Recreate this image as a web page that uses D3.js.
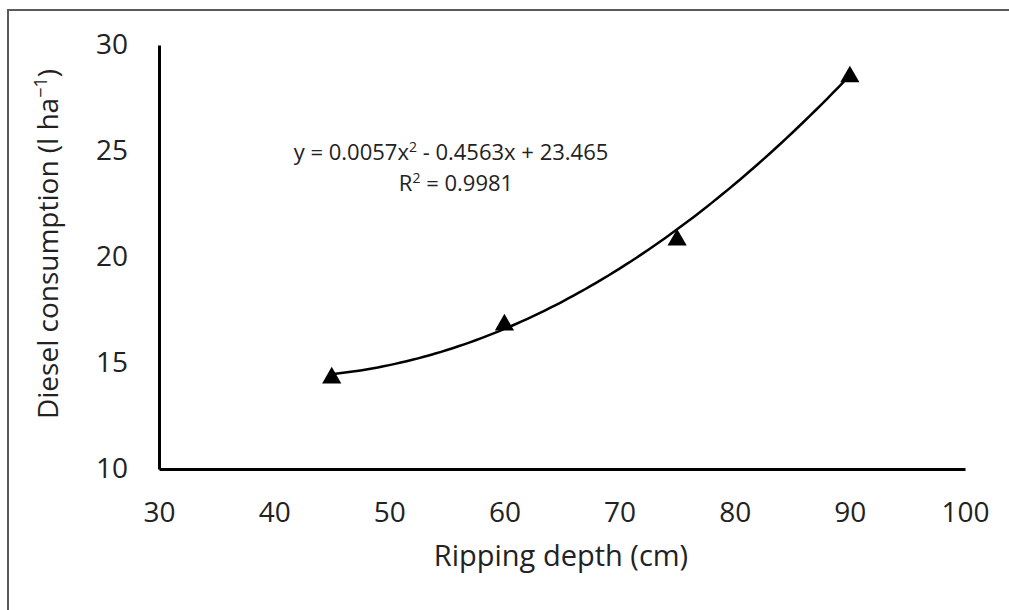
<!DOCTYPE html>
<html>
<head>
<meta charset="utf-8">
<script src="https://cdn.jsdelivr.net/npm/d3@7"></script>
<style>
  body { margin: 0; background: #fff; }
  text { font-family: 'Open Sans', sans-serif; fill: #222; }
</style>
</head>
<body>
<svg width="1009" height="610"></svg>
<script>
//chart size
const SVG_WIDTH = 1009;
const SVG_HEIGHT = 610;

//ripping depth (cm) and diesel consumption (l/ha)
var depths = [45, 60, 75, 90];
var diesel = [14.3, 16.8, 20.8, 28.5];
//polynomial trendline coefficients: a*x^2 + b*x + c
var trendCoef = [0.0057, -0.4563, 23.465];
var trendRange = [45, 90];
//tick labels
var xTicks = [30, 40, 50, 60, 70, 80, 90, 100];
var yTicks = [10, 15, 20, 25, 30];

var svg = d3.select('svg');

//outer frame (only top and left edges show)
svg.append('rect')
   .attr('x', 8).attr('y', 10)
   .attr('width', SVG_WIDTH + 20).attr('height', SVG_HEIGHT + 20)
   .attr('fill', 'none')
   .attr('stroke', '#5a5a5a')
   .attr('stroke-width', 2);

var x = d3.scaleLinear().domain([30, 100]).range([159, 965]);
var y = d3.scaleLinear().domain([10, 30]).range([469, 45]);

//x axis
var xAxis = svg.append('g')
   .attr('transform', 'translate(0,469)')
   .call(d3.axisBottom(x).tickValues(xTicks).tickSize(0).tickPadding(33));
xAxis.select('.domain').attr('stroke', '#000').attr('stroke-width', 3);
xAxis.selectAll('text').style('font-size', '28px').attr('fill', '#222');

//y axis
var yAxis = svg.append('g')
   .attr('transform', 'translate(159,0)')
   .call(d3.axisLeft(y).tickValues(yTicks).tickSize(0).tickPadding(31));
yAxis.select('.domain').attr('stroke', '#000').attr('stroke-width', 3);
yAxis.selectAll('text').style('font-size', '28px').attr('fill', '#222');

//axis titles
svg.append('text')
   .attr('x', 561).attr('y', 566)
   .attr('text-anchor', 'middle')
   .style('font-size', '29px')
   .text('Ripping depth (cm)');

var yt = svg.append('text')
   .attr('transform', 'translate(58,244) rotate(-90)')
   .attr('text-anchor', 'middle')
   .style('font-size', '28px');
yt.append('tspan').text('Diesel consumption (l ha');
yt.append('tspan').attr('dy', -11).style('font-size', '18px').text('\u22121');
yt.append('tspan').attr('dy', 11).text(')');

//trendline from the fitted polynomial
var trendX = d3.range(trendRange[0], trendRange[1] + 0.01, 0.5);
var line = d3.line()
   .x(function(d) { return x(d); })
   .y(function(d) { return y(trendCoef[0]*d*d + trendCoef[1]*d + trendCoef[2]); })
   .curve(d3.curveMonotoneX);
svg.append('path')
   .attr('d', line(trendX))
   .attr('fill', 'none')
   .attr('stroke', '#000')
   .attr('stroke-width', 2.5);

//triangle markers
svg.selectAll('.pt')
   .data(depths)
   .enter()
   .append('path')
   .attr('class', 'pt')
   .attr('d', d3.symbol().type(d3.symbolTriangle).size(160))
   .attr('transform', function(d, i) { return 'translate(' + x(d) + ',' + y(diesel[i]) + ')'; })
   .attr('fill', '#000');

//equation label
var eq = svg.append('text')
   .attr('x', 451).attr('y', 160)
   .attr('text-anchor', 'middle')
   .style('font-size', '22px');
eq.append('tspan').text('y = 0.0057x');
eq.append('tspan').attr('dy', -8).style('font-size', '14px').text('2');
eq.append('tspan').attr('dy', 8).text(' - 0.4563x + 23.465');

var r2 = svg.append('text')
   .attr('x', 456).attr('y', 191)
   .attr('text-anchor', 'middle')
   .style('font-size', '22px');
r2.append('tspan').text('R');
r2.append('tspan').attr('dy', -8).style('font-size', '14px').text('2');
r2.append('tspan').attr('dy', 8).text(' = 0.9981');
</script>
</body>
</html>
